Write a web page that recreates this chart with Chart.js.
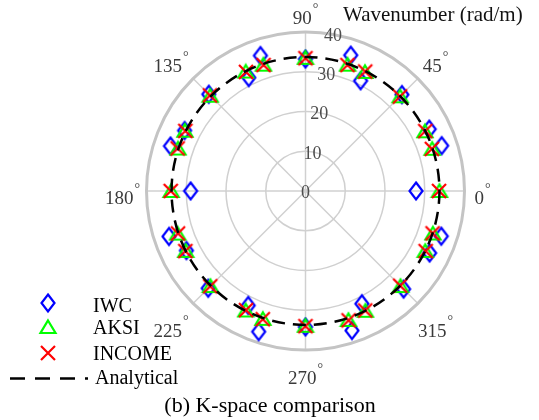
<!DOCTYPE html>
<html><head><meta charset="utf-8">
<script src="https://cdn.jsdelivr.net/npm/chart.js@4.4.1/dist/chart.umd.min.js"></script>
<style>html,body{margin:0;padding:0;background:#fff}canvas{display:block}</style>
</head><body>
<canvas id="c" width="539" height="420"></canvas>
<script>
// ---- data (angles in degrees, wavenumber in rad/m) ----
const anglesDeg = [0,18.43,26.57,45,63.43,71.57,90,108.43,116.57,135,153.43,161.57,180,198.43,206.57,225,243.43,251.57,270,288.43,296.57,315,333.43,341.57];
const iwcK    = [27.8,36.1,34.8,34.3,31.0,36.0,33.2,35.9,31.9,34.4,34.0,35.8,28.9,36.2,33.5,34.6,32.2,37.3,34.2,37.0,31.7,34.9,34.9,36.0];
const aksiK   = [33.7,33.6,33.6,33.7,33.5,33.5,33.5,33.5,33.6,33.9,33.9,33.8,33.8,33.9,33.7,33.8,33.6,33.9,33.9,34.2,33.7,33.8,33.7,33.8];
const incomeK = [33.6,33.5,33.7,33.6,33.6,33.4,33.4,33.4,33.5,34.0,33.8,33.9,33.9,33.8,33.8,33.9,33.5,34.0,34.0,34.3,33.6,33.7,33.8,33.7];
const analyticalK = 33.7;
const radialTicks = [0,10,20,30,40];
const angleTicks = [0,45,90,135,180,225,270,315];
const seriesNames = ['IWC','AKSI','INCOME','Analytical'];
const axisTitle = 'Wavenumber (rad/m)';
const figTitle = '(b) K-space comparison';

const SERIF = '"Liberation Serif","DejaVu Serif",serif';
const toXY = (deg, k) => ({x: k*Math.cos(deg*Math.PI/180), y: k*Math.sin(deg*Math.PI/180)});

function mk(w,h,draw){const c=document.createElement('canvas');c.width=w;c.height=h;const g=c.getContext('2d');draw(g);return c;}
const diamondImg = mk(20,22,g=>{g.strokeStyle='#0000ff';g.lineWidth=2.2;g.beginPath();g.moveTo(10,2.5);g.lineTo(16.5,11);g.lineTo(10,19.5);g.lineTo(3.5,11);g.closePath();g.stroke();});
const triImg = mk(20,20,g=>{g.strokeStyle='#00ff00';g.lineWidth=2.2;g.lineJoin='miter';g.beginPath();g.moveTo(10,3.5);g.lineTo(17.5,16);g.lineTo(2.5,16);g.closePath();g.stroke();});
const crossImg = mk(20,20,g=>{g.strokeStyle='#ff0000';g.lineWidth=2.2;g.beginPath();g.moveTo(3,3);g.lineTo(17,17);g.moveTo(17,3);g.lineTo(3,17);g.stroke();});

const decor = {
  id:'decor',
  beforeDatasetsDraw(chart){
    const ctx=chart.ctx, sx=chart.scales.x, sy=chart.scales.y;
    const cx=sx.getPixelForValue(0), cy=sy.getPixelForValue(0);
    const rp=k=>sx.getPixelForValue(k)-cx;
    const rmax=radialTicks[radialTicks.length-1];
    ctx.save();
    ctx.strokeStyle='#d0d0d0'; ctx.lineWidth=1.5;
    angleTicks.forEach(a=>{const t=a*Math.PI/180;ctx.beginPath();ctx.moveTo(cx,cy);ctx.lineTo(cx+rp(rmax)*Math.cos(t),cy-rp(rmax)*Math.sin(t));ctx.stroke();});
    radialTicks.forEach(k=>{ if(k<=0) return; ctx.beginPath(); ctx.arc(cx,cy,rp(k),0,Math.PI*2);
      if(k===rmax){ctx.strokeStyle='#c4c4c4';ctx.lineWidth=3;} else {ctx.strokeStyle='#d0d0d0';ctx.lineWidth=1.5;}
      ctx.stroke();});
    ctx.restore();
  },
  afterDatasetsDraw(chart){
    const ctx=chart.ctx, sx=chart.scales.x, sy=chart.scales.y;
    const cx=sx.getPixelForValue(0), cy=sy.getPixelForValue(0);
    const rp=k=>sx.getPixelForValue(k)-cx;
    ctx.save();
    // analytical circle
    ctx.strokeStyle='#000'; ctx.lineWidth=2.5; ctx.setLineDash([13,8]);
    ctx.beginPath(); ctx.arc(cx,cy,rp(analyticalK),0,Math.PI*2); ctx.stroke();
    ctx.setLineDash([]);
    // radial tick labels
    ctx.font='18px '+SERIF; ctx.fillStyle='#4d4d4d'; ctx.textAlign='center'; ctx.textBaseline='middle';
    const la=80*Math.PI/180;
    radialTicks.forEach(k=>{ctx.fillText(String(k), cx+rp(k)*Math.cos(la), cy-rp(k)*Math.sin(la)+2);});
    // angle labels
    ctx.textAlign='left'; ctx.textBaseline='alphabetic'; ctx.fillStyle='#3a3a3a';
    angleTicks.forEach(a=>{
      const t=a*Math.PI/180, c=Math.cos(t), s=Math.sin(t);
      const R=180+7*Math.abs(Math.sin(2*t));
      const px=cx+R*c-3*Math.abs(c), py=cy-R*s+7;
      ctx.font='19px '+SERIF; const w=ctx.measureText(String(a)).width;
      ctx.font='14px '+SERIF; const dw=ctx.measureText('\u00b0').width;
      const tot=w+1+dw, left=px-tot/2, base=py+6.3;
      ctx.font='19px '+SERIF; ctx.fillText(String(a), left, base);
      ctx.font='14px '+SERIF; ctx.fillText('\u00b0', left+w+1, base-11.5);
    });
    // axis title
    ctx.fillStyle='#111'; ctx.font='21px '+SERIF; ctx.textAlign='left';
    ctx.fillText(axisTitle, 343, 21);
    // legend
    const imgs=[diamondImg,triImg,crossImg], my=[303,327,353], ty=[312,334,360];
    ctx.font='20px '+SERIF; ctx.fillStyle='#000';
    imgs.forEach((im,i)=>{ctx.drawImage(im,48-im.width/2,my[i]-im.height/2); ctx.fillText(seriesNames[i],93,ty[i]);});
    ctx.strokeStyle='#000'; ctx.lineWidth=2.5; ctx.setLineDash([15,10]);
    ctx.beginPath(); ctx.moveTo(10,378.5); ctx.lineTo(88,378.5); ctx.stroke(); ctx.setLineDash([]);
    ctx.fillText(seriesNames[3],95,384);
    // figure title
    ctx.font='22px '+SERIF; ctx.textAlign='center';
    ctx.fillText(figTitle, 270, 412);
    ctx.restore();
  }
};

new Chart(document.getElementById('c'), {
  type:'scatter',
  data:{datasets:[
    {label:seriesNames[0], data:anglesDeg.map((a,i)=>toXY(a,iwcK[i])), pointStyle:diamondImg, pointRadius:7, order:3},
    {label:seriesNames[1], data:anglesDeg.map((a,i)=>toXY(a,aksiK[i])), pointStyle:triImg, pointRadius:7, order:2},
    {label:seriesNames[2], data:anglesDeg.map((a,i)=>toXY(a,incomeK[i])), pointStyle:crossImg, pointRadius:7, order:1}
  ]},
  options:{
    responsive:false, animation:false, devicePixelRatio:1, events:[],
    layout:{padding:{left:146.5,right:74.5,top:32,bottom:70}},
    scales:{x:{type:'linear',min:-40,max:40,display:false},y:{type:'linear',min:-40,max:40,display:false}},
    plugins:{legend:{display:false},tooltip:{enabled:false}}
  },
  plugins:[decor]
});
</script>
</body></html>
